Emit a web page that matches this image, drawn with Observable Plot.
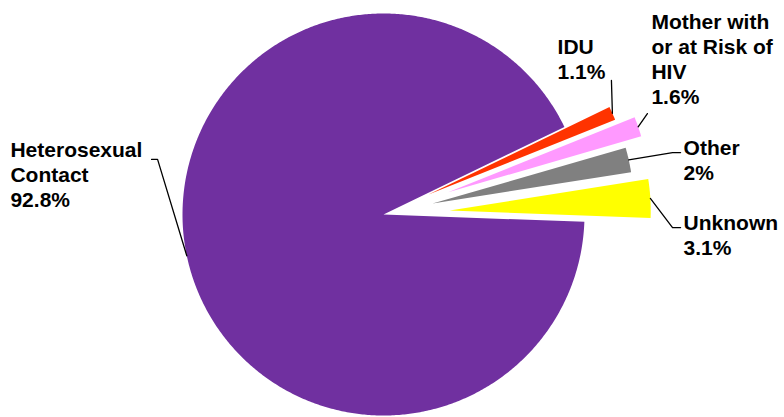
<!DOCTYPE html>
<html><head><meta charset="utf-8">
<script src="https://cdn.jsdelivr.net/npm/d3@7"></script>
<script src="https://cdn.jsdelivr.net/npm/@observablehq/plot@0.6"></script>
<style>html,body{margin:0;padding:0;background:#fff;}</style>
</head><body><div id="chart"></div>
<script>
// ---- data ----
const categories = ["Heterosexual Contact", "IDU", "Mother with or at Risk of HIV", "Other", "Unknown"];
const percents = [92.8, 1.1, 1.6, 2, 3.1];
const labelTexts = ["Heterosexual\nContact\n92.8%", "IDU\n1.1%", "Mother with\nor at Risk of\nHIV\n1.6%", "Other\n2%", "Unknown\n3.1%"];

// ---- styles / layout ----
const colors = ["#7030A0", "#FF3300", "#FF99FF", "#808080", "#FFFF00"];
const explode = [0, 0.245, 0.34, 0.25, 0.33];           // radius units
const labelPos = [[-1.856, 0.373], [0.866, 0.886], [1.333, 1.010], [1.493, 0.383], [1.493, 0.010]];
const leaderBends = [
  [[-1.124, 0.274], [-1.154, 0.274]],
  [[1.134, 0.667]],
  [[1.313, 0.502]],
  [[1.438, 0.308], [1.478, 0.308]],
  [[1.438, -0.065], [1.478, -0.065]]
];
const W = 784, H = 417, cx = 383, cy = 214, R = 201;
const start = 92.1 * Math.PI / 180;

const arcs = d3.pie().sort(null).value(d => d).startAngle(start).endAngle(start + 2 * Math.PI)(percents);

const polys = [], leaders = [];
arcs.forEach((a, i) => {
  const m = (a.startAngle + a.endAngle) / 2;
  const ox = explode[i] * Math.sin(m), oy = explode[i] * Math.cos(m);
  const pts = [{x: ox, y: oy}];
  const n = Math.max(2, Math.ceil((a.endAngle - a.startAngle) / (Math.PI / 360)));
  for (let k = 0; k <= n; k++) {
    const t = a.startAngle + (a.endAngle - a.startAngle) * k / n;
    pts.push({x: ox + Math.sin(t), y: oy + Math.cos(t)});
  }
  pts.push({x: ox, y: oy});
  polys.push({color: colors[i], pts});
  const lp = [{key: i, x: ox + Math.sin(m), y: oy + Math.cos(m)}];
  leaderBends[i].forEach(p => lp.push({key: i, x: p[0], y: p[1]}));
  leaders.push(...lp);
});

const labels = categories.map((c, i) => ({cat: c, text: labelTexts[i], x: labelPos[i][0], y: labelPos[i][1]}));

const chart = Plot.plot({
  width: W, height: H, margin: 0,
  x: {domain: [-cx / R, (W - cx) / R], axis: null},
  y: {domain: [-(H - cy) / R, cy / R], axis: null},
  style: {background: "#fff"},
  marks: [
    ...polys.map(p => Plot.line(p.pts, {x: "x", y: "y", fill: p.color, stroke: "none"})),
    Plot.line(leaders, {x: "x", y: "y", z: "key", stroke: "#000", strokeWidth: 1.3}),
    Plot.text(labels, {x: "x", y: "y", text: "text", textAnchor: "start", lineAnchor: "top",
      fontSize: 21, fontWeight: "bold", fontFamily: "'Liberation Sans', Arial, sans-serif",
      lineHeight: 25 / 21, fill: "#000"})
  ]
});
document.getElementById("chart").appendChild(chart);
</script>
</body></html>
